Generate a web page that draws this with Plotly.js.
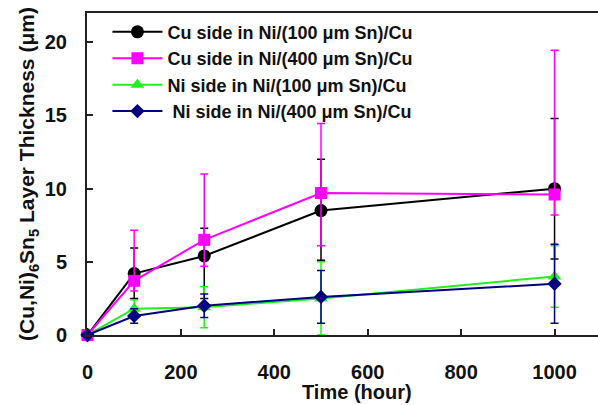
<!DOCTYPE html>
<html><head><meta charset="utf-8">
<script src="https://cdn.plot.ly/plotly-3.0.1.min.js"></script>
<style>html,body{margin:0;padding:0;background:#fff}#c{width:598px;height:405px}</style>
</head><body><div id="c"></div>
<script>
const time = [0, 100, 250, 500, 1000];
const names = ["Cu side in Ni/(100 μm Sn)/Cu", "Cu side in Ni/(400 μm Sn)/Cu", "Ni side in Ni/(100 μm Sn)/Cu", " Ni side in Ni/(400 μm Sn)/Cu"];
const cu100 = [0, 4.2, 5.4, 8.5, 10.0];
const cu100Plus = [0, 1.75, 1.9, 3.5, 4.8];
const cu100Minus = [0, 1.7, 2.9, 3.4, 4.8];
const cu400 = [0, 3.7, 6.5, 9.7, 9.6];
const cu400Plus = [0, 3.45, 4.5, 4.75, 9.85];
const cu400Minus = [0, 0.7, 1.8, 3.6, 1.4];
const ni100 = [0, 1.8, 1.9, 2.5, 4.0];
const ni100Err = [0, 0.6, 1.4, 2.5, 2.1];
const ni400 = [0, 1.3, 2.0, 2.6, 3.5];
const ni400Err = [0, 0.5, 0.8, 1.8, 2.7];
const xTicks = [0, 200, 400, 600, 800, 1000];
const yTicks = [0, 5, 10, 15, 20];

function tr(y, plus, minus, name, color, symbol, size, group) {
  return {
    x: time, y: y, name: name, type: 'scatter', mode: 'lines+markers',
    legendgroup: group, cliponaxis: false,
    line: {color: color, width: 2},
    marker: {color: color, symbol: symbol, size: size},
    error_y: {type: 'data', symmetric: false, array: plus, arrayminus: minus, color: color, thickness: 1.5, width: 4}
  };
}
const data = [
  tr(cu100, cu100Plus, cu100Minus, names[0], '#000000', 'circle', 13, 'a'),
  tr(cu400, cu400Plus, cu400Minus, names[1], '#ff00ff', 'square', 12, 'b'),
  tr(ni100, ni100Err, ni100Err, names[2], '#22ee22', 'triangle-up', 12, 'c'),
  tr(ni400, ni400Err, ni400Err, names[3], '#000080', 'diamond', 11, 'd')
];
const layout = {
  width: 598, height: 405,
  margin: {l: 87, r: 0, t: 13, b: 70},
  paper_bgcolor: '#fff', plot_bgcolor: '#fff',
  font: {family: 'Liberation Sans, Arial, sans-serif', color: '#111'},
  showlegend: true,
  legend: {x: 0.04, y: 0.998, xanchor: 'left', yanchor: 'top', bgcolor: 'rgba(255,255,255,0)',
    font: {size: 18, color: '#111', weight: 'bold'}, traceorder: 'grouped', tracegroupgap: 0, itemwidth: 50},
  xaxis: {
    range: [-1, 1093], tickvals: xTicks, ticktext: xTicks.map(String),
    showgrid: false, zeroline: false, showline: true, linecolor: '#222', linewidth: 2, mirror: true,
    ticks: 'inside', ticklen: 6, tickwidth: 2, tickcolor: '#222',
    tickfont: {size: 20, family: 'Liberation Sans, Arial, sans-serif', weight: 'bold', color: '#111'},
    ticklabelstandoff: 18
  },
  yaxis: {
    range: [0, 22], tickvals: yTicks, ticktext: yTicks.map(String),
    showgrid: false, zeroline: false, showline: true, linecolor: '#222', linewidth: 2, mirror: false,
    ticks: 'inside', ticklen: 6, tickwidth: 2, tickcolor: '#222',
    tickfont: {size: 20, family: 'Liberation Sans, Arial, sans-serif', weight: 'bold', color: '#111'},
    ticklabelstandoff: 14,
    title: {text: '<b>(Cu,Ni)<sub>6</sub>Sn<sub>5</sub> Layer Thickness (μm)</b>', font: {size: 21, color: '#111'}, standoff: 4}
  },
  annotations: [{
    text: '<b>Time (hour)</b>', xref: 'paper', yref: 'paper', x: 0.528, y: (335 - 392) / 322,
    xanchor: 'center', yanchor: 'middle', showarrow: false, font: {size: 20, color: '#111'}
  }]
};
Plotly.newPlot('c', data, layout, {displayModeBar: false, staticPlot: true});
</script></body></html>
